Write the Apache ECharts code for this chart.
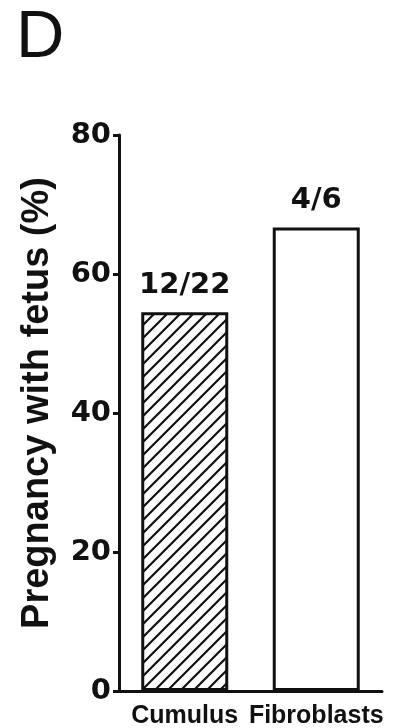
<!DOCTYPE html>
<html>
<head>
<meta charset="utf-8">
<script src="https://cdn.jsdelivr.net/npm/echarts@6/dist/echarts.min.js"></script>
<style>
html,body{margin:0;padding:0;background:#fff;}
#main{width:393px;height:728px;}
</style>
</head>
<body>
<div id="main"></div>
<script>
// ---- data ----
var categories = ['Cumulus', 'Fibroblasts'];
var pregnancyPct = [54.5, 66.7];
var barLabels = ['12/22', '4/6'];
var yTicks = [0, 20, 40, 60, 80];
var panelLetter = 'D';
var yAxisName = 'Pregnancy with fetus (%)';

// hatch pattern (style only)
function makeHatch() {
  var s = 13;
  var c = document.createElement('canvas');
  c.width = s; c.height = s;
  var ctx = c.getContext('2d');
  ctx.fillStyle = '#fff';
  ctx.fillRect(0, 0, s, s);
  ctx.strokeStyle = '#111';
  ctx.lineWidth = 2.2;
  ctx.beginPath();
  ctx.moveTo(-2, s + 2); ctx.lineTo(s + 2, -2);
  ctx.moveTo(-2, 2); ctx.lineTo(2, -2);
  ctx.moveTo(s - 2, s + 2); ctx.lineTo(s + 2, s - 2);
  ctx.stroke();
  return c;
}
var hatch = makeHatch();

var fills = [{ image: hatch, repeat: 'repeat' }, '#ffffff'];

var chart = echarts.init(document.getElementById('main'), null, { renderer: 'canvas' });
chart.setOption({
  animation: false,
  backgroundColor: '#fff',
  title: {
    text: panelLetter,
    left: 16, top: 5, padding: 0,
    textStyle: { fontFamily: 'Liberation Sans', fontWeight: 'normal', fontSize: 67, color: '#111' }
  },
  grid: { left: 119, right: 11, top: 135, bottom: 37, containLabel: false, outerBoundsMode: 'none' },
  xAxis: {
    type: 'category',
    data: categories,
    axisLine: { lineStyle: { color: '#111', width: 3 } },
    axisTick: { alignWithLabel: true, length: 9, lineStyle: { color: '#111', width: 3 } },
    axisLabel: { margin: 13, color: '#111', fontFamily: 'Liberation Sans', fontWeight: 'bold', fontSize: 25, interval: 0 }
  },
  yAxis: {
    type: 'value',
    min: yTicks[0], max: yTicks[yTicks.length - 1], interval: yTicks[1] - yTicks[0],
    name: yAxisName,
    nameLocation: 'middle',
    nameRotate: 90,
    nameGap: 62,
    nameTextStyle: { fontFamily: 'Liberation Sans', fontWeight: 'bold', fontSize: 38, color: '#111', padding: [0, 0, 0, 20] },
    axisLine: { show: true, lineStyle: { color: '#111', width: 3 } },
    axisTick: { show: true, length: 6, lineStyle: { color: '#111', width: 3 } },
    axisLabel: { margin: 8, color: '#111', fontFamily: 'DejaVu Sans', fontWeight: 'bold', fontSize: 29 },
    splitLine: { show: false }
  },
  series: [{
    type: 'bar',
    barWidth: 87,
    data: pregnancyPct.map(function (v, i) {
      return { value: v, itemStyle: { color: fills[i] } };
    }),
    itemStyle: { borderColor: '#111', borderWidth: 3 },
    label: {
      show: true, position: 'top', distance: 12,
      formatter: function (p) { return barLabels[p.dataIndex]; },
      color: '#111', fontFamily: 'DejaVu Sans', fontWeight: 'bold', fontSize: 29
    }
  }]
});
</script>
</body>
</html>
